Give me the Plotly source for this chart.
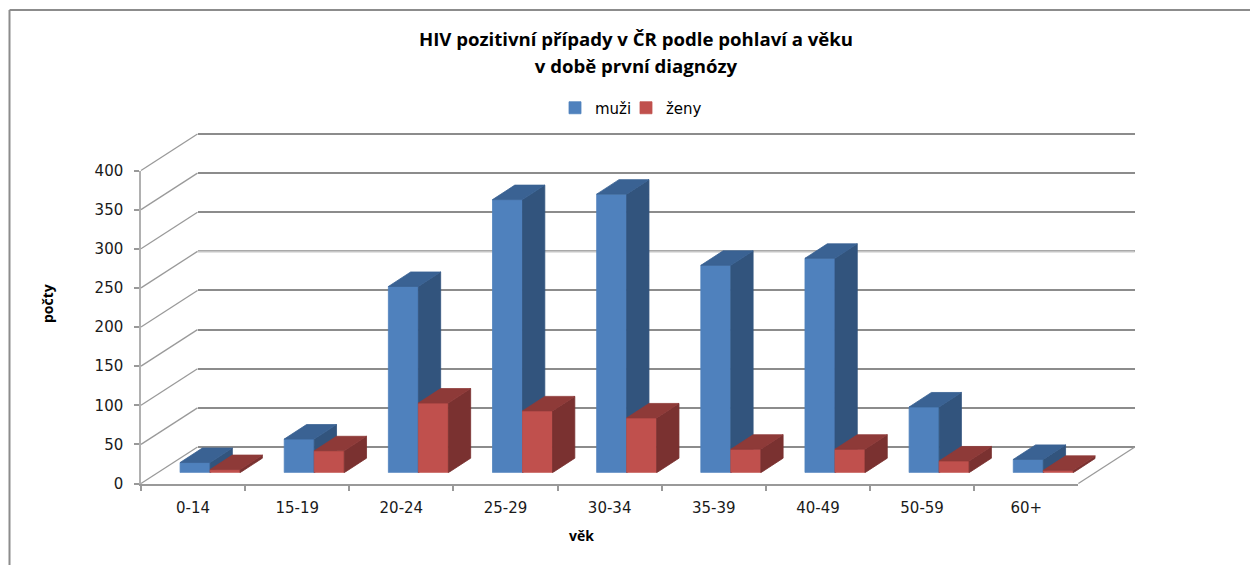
import plotly.graph_objects as go

categories = ["0-14", "15-19", "20-24", "25-29", "30-34", "35-39", "40-49", "50-59", "60+"]
muzi = [13, 43, 238, 349, 356, 265, 274, 84, 17]
zeny = [4, 28, 89, 79, 70, 30, 30, 15, 3]

W, H = 1250, 565
FONT = "DejaVu Sans"
CAT_PX = 104.15
PX_PER_UNIT = 313 / 400
DX = 22.3 / CAT_PX          # projected depth of a bar, in category units
DY = 14.5 / PX_PER_UNIT     # projected depth of a bar, in value units
BAR_W = 30 / CAT_PX
PAD = 10                    # value units of slack so the 0 and 400 gridlines are kept


def xdom(left):
    return [left / W, (left + 9 * CAT_PX) / W]


def ydom(bottom, pad=0):
    return [(H - bottom - pad * PX_PER_UNIT) / H, (H - bottom + 313 + pad * PX_PER_UNIT) / H]


def faces(values, start):
    side_x, side_y, top_x, top_y = [], [], [], []
    for i, v in enumerate(values):
        x0, x1 = i + start, i + start + BAR_W
        side_x += [x1, x1 + DX, x1 + DX, x1, x1, None]
        side_y += [0, DY, v + DY, v, 0, None]
        top_x += [x0, x0 + DX, x1 + DX, x1, x0, None]
        top_y += [v, v + DY, v + DY, v, v, None]
    return side_x, side_y, top_x, top_y


fig = go.Figure()
idx = list(range(len(categories)))

# back wall (gridlines) and front axes need one hidden trace each to be rendered
fig.add_trace(go.Scatter(x=[0, 9], y=[0, 400], xaxis="x", yaxis="y", mode="none",
                         showlegend=False, hoverinfo="skip"))
fig.add_trace(go.Scatter(x=categories, y=[0] * 9, xaxis="x2", yaxis="y2", mode="none",
                         showlegend=False, hoverinfo="skip"))

series = [("muži", muzi, "#4F81BD", "#3A6293", "#32547D", -BAR_W, "x3", "y3", "legend"),
          ("ženy", zeny, "#C0504D", "#8E3A38", "#7A3130", 0, "x4", "y4", "legend2")]
for name, vals, front, top, side, start, xa, ya, leg in series:
    sx, sy, tx, ty = faces(vals, start)
    fig.add_trace(go.Bar(x=idx, y=vals, name=name, marker=dict(color=front, line=dict(width=0.8, color=front)),
                         width=BAR_W, offset=start, xaxis=xa, yaxis=ya, legend=leg))
    fig.add_trace(go.Scatter(x=sx, y=sy, fill="toself", fillcolor=side, mode="lines",
                             line=dict(color=side, width=0.8),
                             xaxis=xa, yaxis=ya, showlegend=False, hoverinfo="skip"))
    fig.add_trace(go.Scatter(x=tx, y=ty, fill="toself", fillcolor=top, mode="lines",
                             line=dict(color=top, width=0.8),
                             xaxis=xa, yaxis=ya, showlegend=False, hoverinfo="skip"))

hidden = dict(visible=False, automargin=False)
FRONT_L, FRONT_B = 141, 483.5
BACK_L, BACK_B = 197.5, 447
BAR_L, BAR_B = 158, 472.7

# left wall and floor edges, from the front axis to the back wall
shapes = []
for v in range(0, 401, 50):
    y0 = (H - FRONT_B + v * PX_PER_UNIT) / H
    y1 = (H - BACK_B + v * PX_PER_UNIT) / H
    shapes.append(dict(type="line", xref="paper", yref="paper", x0=FRONT_L / W, x1=BACK_L / W,
                       y0=y0, y1=y1, line=dict(color="#9a9a9a", width=1.3)))
shapes.append(dict(type="line", xref="paper", yref="paper",
                   x0=(FRONT_L + 9 * CAT_PX) / W, x1=(BACK_L + 9 * CAT_PX) / W,
                   y0=(H - FRONT_B) / H, y1=(H - BACK_B) / H, line=dict(color="#9a9a9a", width=1.3)))
# the paler 250 gridline of the reference
shapes.append(dict(type="line", xref="x", yref="y", x0=0, x1=9, y0=250, y1=250, layer="between",
                   line=dict(color="#c6c6c6", width=2)))
# chart frame
shapes.append(dict(type="line", xref="paper", yref="paper", x0=9.5 / W, x1=9.5 / W, y0=0, y1=(H - 10) / H,
                   line=dict(color="#8c8c8c", width=2)))
shapes.append(dict(type="line", xref="paper", yref="paper", x0=9.5 / W, x1=1, y0=(H - 10) / H, y1=(H - 10) / H,
                   line=dict(color="#8c8c8c", width=2)))

axis_titles = [
    dict(text="<b>věk</b>", xref="paper", yref="paper", x=581 / W, y=1 - 535 / H, showarrow=False,
         xanchor="center", yanchor="middle", font=dict(family="Open Sans", size=14, color="#000000")),
    dict(text="<b>počty</b>", xref="paper", yref="paper", x=47 / W, y=1 - 304 / H, showarrow=False, textangle=-90,
         xanchor="center", yanchor="middle", font=dict(family="Open Sans", size=14, color="#000000")),
]

legend_style = dict(orientation="h", xanchor="left", y=1 - 108 / H, yanchor="middle",
                    font=dict(family=FONT, size=15), itemwidth=30, bgcolor="rgba(0,0,0,0)")

fig.update_layout(
    template="none",
    width=W, height=H, margin=dict(l=0, r=0, t=0, b=0, pad=0), showlegend=True,
    paper_bgcolor="white", plot_bgcolor="rgba(0,0,0,0)",
    font=dict(family=FONT, size=14, color="#000000"),
    shapes=shapes, annotations=axis_titles,
    title=dict(text='<b><span style="font-size:18.6px">HIV pozitivní případy v ČR podle pohlaví a věku</span><br>'
                    '<span style="font-size:18.6px">v době první diagnózy</span></b>',
               x=636 / W, xanchor="center", y=1 - 46 / H, yanchor="middle",
               font=dict(family="Open Sans", size=20.7, color="#000000")),
    legend=dict(x=555 / W, **legend_style),
    legend2=dict(x=626 / W, **legend_style),
    xaxis=dict(domain=xdom(BACK_L), range=[0, 9], anchor="y", **hidden),
    yaxis=dict(domain=ydom(BACK_B, PAD), range=[-PAD, 400 + PAD], anchor="x", showgrid=True, gridcolor="#8c8c8c",
               gridwidth=2, tick0=0, dtick=50, zeroline=False, showticklabels=False, ticks="", showline=False,
               automargin=False),
    xaxis2=dict(domain=xdom(FRONT_L), type="category", range=[-0.5, 8.5], anchor="y2", tickson="boundaries",
                ticks="outside", ticklen=5, tickcolor="#999999", tickwidth=2, showline=True, linecolor="#999999",
                linewidth=2, showgrid=False, tickfont=dict(size=15, color="#1a1a1a"), ticklabelstandoff=9,
                automargin=False),
    yaxis2=dict(domain=ydom(FRONT_B), range=[0, 400], anchor="x2", dtick=50, ticks="outside", ticklen=5,
                tickcolor="#999999", tickwidth=1.5, showline=True, linecolor="#b0b0b0", linewidth=1.5,
                showgrid=False, zeroline=False, tickfont=dict(size=15, color="#1a1a1a"), ticklabelstandoff=8,
                automargin=False),
    xaxis3=dict(domain=xdom(BAR_L), range=[-0.5, 8.5], anchor="y3", **hidden),
    yaxis3=dict(domain=ydom(BAR_B), range=[0, 400], anchor="x3", **hidden),
    xaxis4=dict(domain=xdom(BAR_L), range=[-0.5, 8.5], anchor="y4", **hidden),
    yaxis4=dict(domain=ydom(BAR_B), range=[0, 400], anchor="x4", **hidden),
)

fig.write_html("out.html", config=dict(displayModeBar=False),
               post_script="document.body.style.margin='0';document.body.style.overflow='hidden';")
